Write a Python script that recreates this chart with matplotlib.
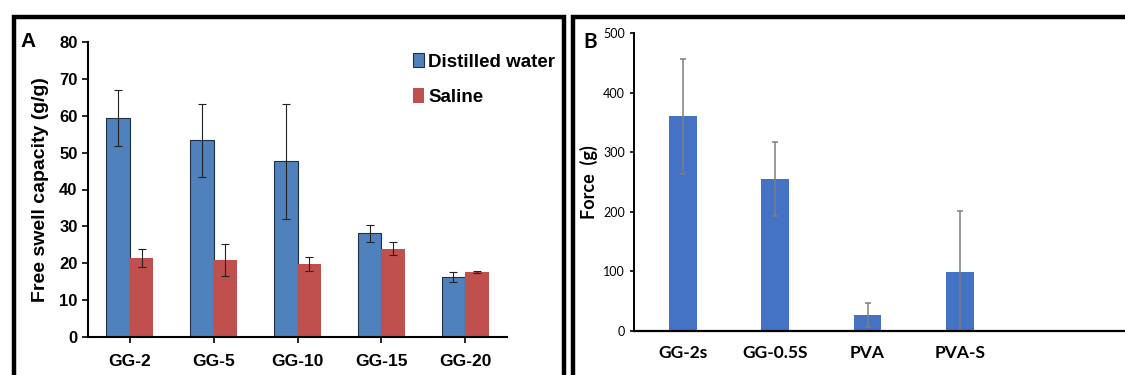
import numpy as np
import matplotlib.pyplot as plt
from matplotlib.patches import Rectangle, Patch

# panel A: free swell capacity
samples = ['GG-2', 'GG-5', 'GG-10', 'GG-15', 'GG-20']
water = [59.4, 53.3, 47.7, 28.1, 16.3]
water_err = [7.6, 9.8, 15.6, 2.3, 1.4]
saline = [21.5, 20.9, 19.9, 24.0, 17.6]
saline_err = [2.4, 4.4, 1.9, 1.8, 0.3]

# panel B: force
films = ['GG-2s', 'GG-0.5S', 'PVA', 'PVA-S']
force = [360, 255, 27, 99]
force_err = [96, 62, 20, 102]

W, H = 1125, 375
fig = plt.figure(figsize=(W / 100, H / 100), dpi=100)


def px(x0, y0, x1, y1):
    # pixel box (top-left origin) -> figure fraction rect
    return [x0 / W, 1 - y1 / H, (x1 - x0) / W, (y1 - y0) / H]


# outer frames of the two panels
fig.patches.append(Rectangle((14 / W, -0.1), (564 - 14) / W, 1.1 - 17 / H,
                             transform=fig.transFigure, fill=False,
                             lw=3.2, ec='black'))
fig.patches.append(Rectangle((573 / W, -0.1), 0.6, 1.1 - 17 / H,
                             transform=fig.transFigure, fill=False,
                             lw=3.2, ec='black'))

# ---- A ----
fa = 'Liberation Sans'
ax1 = fig.add_axes(px(88, 42, 507, 337))
x = np.arange(len(samples))
bw = 0.28
ax1.bar(x - bw / 2, water, bw, color='#4F81BD', edgecolor='#1f2f45', lw=0.8,
        yerr=water_err, error_kw=dict(ecolor='#222222', elinewidth=0.8,
                                      capsize=3, capthick=0.8))
ax1.bar(x + bw / 2, saline, bw, color='#C0504D', edgecolor='none',
        yerr=saline_err, error_kw=dict(ecolor='#222222', elinewidth=0.8,
                                       capsize=3, capthick=0.8))
ax1.set_xlim(-0.5, 4.5)
ax1.set_ylim(0, 80)
ax1.set_yticks(range(0, 81, 10))
ax1.set_xticks(x)
ax1.set_xticklabels(samples, fontfamily=fa, fontweight='bold', fontsize=12.5)
for t in ax1.get_yticklabels():
    t.set_fontfamily(fa)
    t.set_fontweight('bold')
    t.set_fontsize(12)
ax1.tick_params(axis='both', direction='out', length=4, width=1.2)
ax1.tick_params(axis='x', pad=8)
ax1.spines[['top', 'right']].set_visible(False)
ax1.spines['left'].set_linewidth(1.5)
ax1.spines['bottom'].set_linewidth(1.5)
ax1.set_ylabel('Free swell capacity (g/g)', fontfamily=fa, fontweight='bold',
               fontsize=14, labelpad=7)
handles = [Patch(facecolor='#4F81BD', edgecolor='#1f2f45', lw=0.8),
           Patch(facecolor='#C0504D', edgecolor='none')]
ax1.legend(handles, ['Distilled water', 'Saline'], loc='upper right',
           bbox_to_anchor=(1.155, 1.02), frameon=False,
           prop=dict(family=fa, weight='bold', size=13.5),
           handlelength=0.6, handleheight=0.8, handletextpad=0.2,
           labelspacing=0.95)
fig.text(20 / W, 1 - 47 / H, 'A', fontfamily=fa, fontweight='bold', fontsize=15)

# ---- B ----
fb = 'Lato'
ax2 = fig.add_axes(px(634, 33, 1125, 331))
xb = np.arange(len(films))
ax2.bar(xb, force, 0.3, color='#4472C4',
        yerr=force_err, error_kw=dict(ecolor='#7f7f7f', elinewidth=1.1,
                                      capsize=2.5, capthick=1.1))
ax2.set_xlim(-0.53, 4.79)
ax2.set_ylim(0, 500)
ax2.set_yticks(range(0, 501, 100))
ax2.set_xticks(xb)
ax2.set_xticklabels(films, fontfamily=fb, fontweight='bold', fontsize=12.5)
for t in ax2.get_yticklabels():
    t.set_fontfamily(fb)
    t.set_fontsize(9)
ax2.tick_params(axis='y', direction='out', length=3, width=1.2)
ax2.tick_params(axis='x', length=0, pad=10)
ax2.spines[['top', 'right']].set_visible(False)
ax2.spines['left'].set_linewidth(1.4)
ax2.spines['bottom'].set_linewidth(1.6)
ax2.set_ylabel('Force  (g)', fontfamily=fb, fontweight='bold', fontsize=13,
               labelpad=4)
fig.text(583 / W, 1 - 48 / H, 'B', fontfamily=fb, fontweight='bold', fontsize=15)

fig.savefig('out.png', dpi=100)
